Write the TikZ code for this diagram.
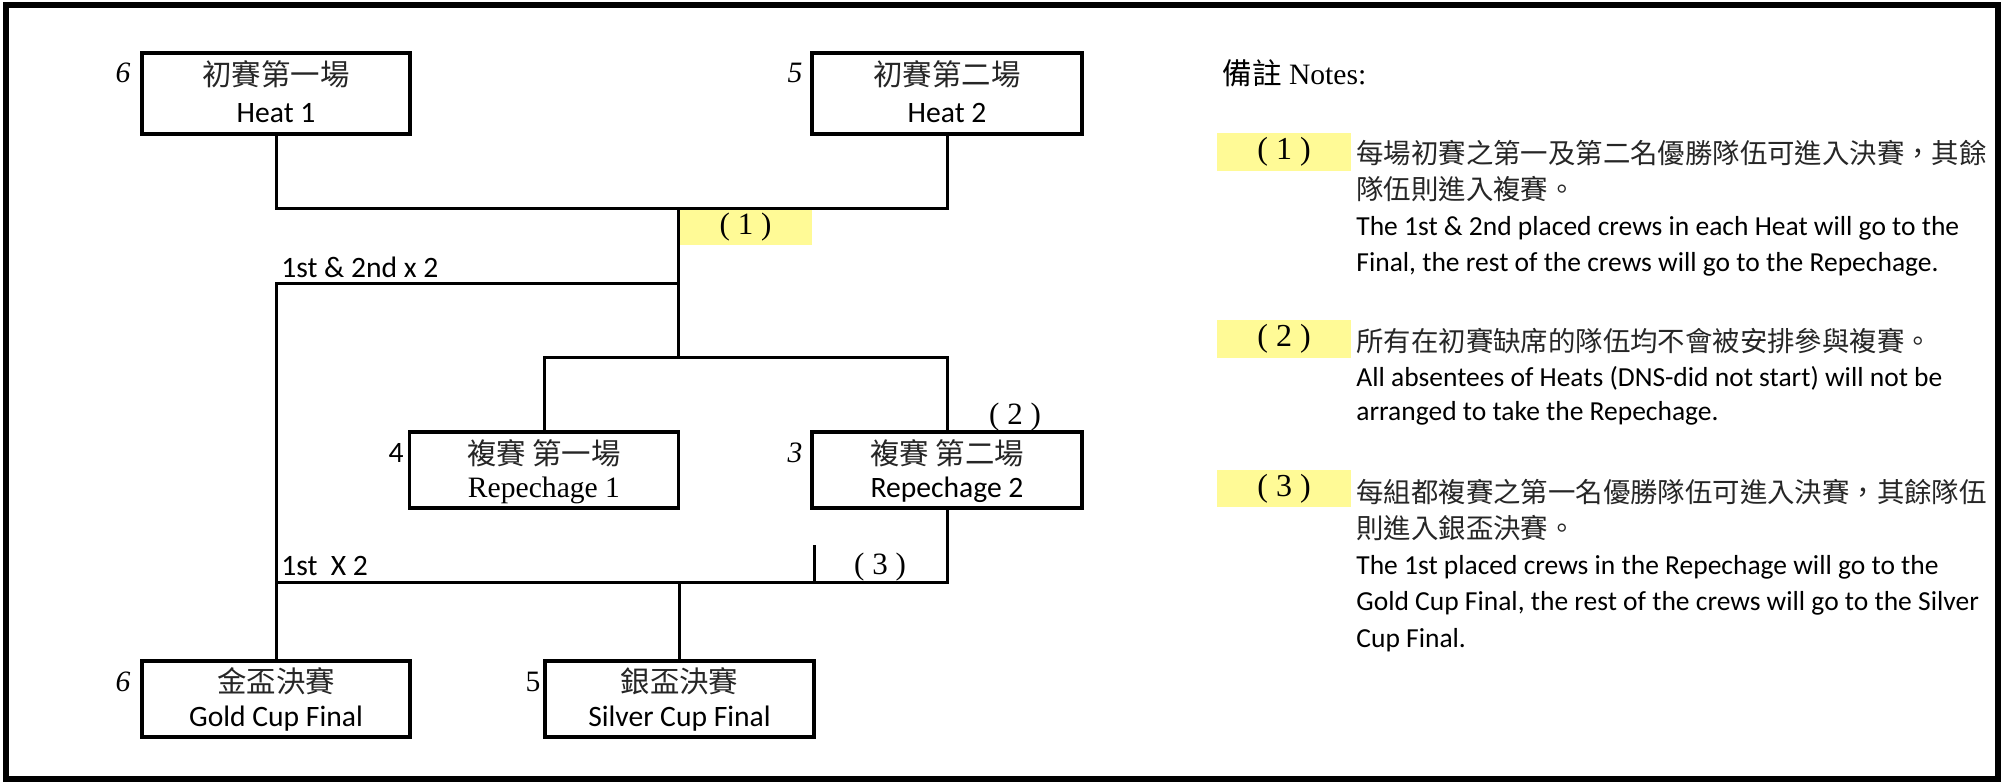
\documentclass[tikz,border=0pt]{standalone}
\usepackage{fontspec}
\setmainfont{Liberation Serif}
\newfontfamily\calfont{Carlito}
\newfontfamily\cjk{Noto Sans CJK TC}
\definecolor{hl}{RGB}{255,250,150}
\begin{document}
\begin{tikzpicture}[x=0.5pt,y=-0.5pt,
  box/.style={draw, line width=1.6pt, inner sep=0pt},
  conn/.style={line width=1.5pt},
  zh/.style={font=\cjk\fontsize{14.7}{16}\selectfont, text=black!85, inner sep=0pt},
  en/.style={font=\calfont\fontsize{14.8}{16}\selectfont, inner sep=0pt},
  tm/.style={font=\fontsize{14.8}{16}\selectfont, inner sep=0pt},
  tmi/.style={font=\itshape\fontsize{14.8}{16}\selectfont, inner sep=0pt},
  nzh/.style={font=\cjk\fontsize{13.7}{16}\selectfont, text=black!85, inner sep=0pt, anchor=west},
  nen/.style={font=\calfont\fontsize{13.75}{16}\selectfont, inner sep=0pt, anchor=west},
  hlbox/.style={fill=hl, inner sep=0pt, font=\fontsize{14.8}{16}\selectfont}]
\useasboundingbox (0,0) rectangle (2013,782);
\node[draw, line width=2.6pt, minimum width=996pt, minimum height=387pt, inner sep=0pt] (frame) at (1002,392) {};

% boxes
\node[box, minimum width=134pt, minimum height=40.5pt] (heat1) at (276,93.5) {};
\node[box, minimum width=135pt, minimum height=40.5pt] (heat2) at (947,93.5) {};
\node[box, minimum width=134.5pt, minimum height=38pt] (rep1) at (544,470) {};
\node[box, minimum width=135pt, minimum height=38pt] (rep2) at (947,470) {};
\node[box, minimum width=134pt, minimum height=38pt] (gold) at (276,699) {};
\node[box, minimum width=134.5pt, minimum height=38pt] (silver) at (679.5,699) {};

% box texts
\node[zh] (h1zh) at (276,74) {初賽第一場};
\node[en] (h1en) at (276,113) {Heat 1};
\node[zh] (h2zh) at (947,74) {初賽第二場};
\node[en] (h2en) at (947,113) {Heat 2};
\node[zh] (r1zh) at (544,453) {複賽 第一場};
\node[tm] (r1en) at (544,490) {Repechage 1};
\node[zh] (r2zh) at (947,453) {複賽 第二場};
\node[en] (r2en) at (947,490) {Repechage 2};
\node[zh] (gzh) at (276,681) {金盃決賽};
\node[en] (gen) at (276,719) {Gold Cup Final};
\node[zh] (szh) at (679.5,681) {銀盃決賽};
\node[en] (sen) at (679.5,719) {Silver Cup Final};

% crew numbers
\node[tmi] (n1) at (123,73) {6};
\node[tmi] (n2) at (795,73) {5};
\node[en] (n3) at (396,453) {4};
\node[tmi] (n4) at (795,453) {3};
\node[tmi] (n5) at (123,682) {6};
\node[tm] (n6) at (533,682) {5};

% junctions
\coordinate (j1) at (678,208);
\coordinate (j2) at (678,357);
\coordinate (ja) at (678,283);
\coordinate (jb) at (276,582);
\coordinate (t1) at (814,545);
\coordinate (t2) at (814,582);

% connectors
\node[hlbox, minimum width=66.5pt, minimum height=17.5pt, font=\fontsize{15.5}{16}\selectfont] (m1) at (745.5,227.5) {( 1 )};
\draw[conn] (heat1.south) |- (j1) -| (heat2.south);
\draw[conn] (j1) -- (j2);
\draw[conn] (rep1.north) |- (j2) -| (rep2.north);
\draw[conn] (ja) -| (gold.north);
\draw[conn] (rep2.south) |- (jb);
\draw[conn] (silver.north) -- (silver.north |- jb);
\draw[conn] (t1) -- (t2);

% connector labels
\node[en, anchor=west] (l1) at (281,267) {1st \& 2nd x 2};
\node[en, anchor=west] (l2) at (281,566) {1st\ \ X 2};
\node[tm, font=\fontsize{15.5}{16}\selectfont] (m2) at (1015,417) {( 2 )};
\node[tm, font=\fontsize{15.5}{16}\selectfont] (m3) at (880,567) {( 3 )};

% notes
\node[anchor=west, inner sep=0pt, font=\fontsize{14.8}{16}\selectfont] (title) at (1222,73) {{\cjk 備註} Notes:};
\node[hlbox, minimum width=67pt, minimum height=19pt, font=\fontsize{16}{16}\selectfont] (k1) at (1284,152) {( 1 )};
\node[hlbox, minimum width=67pt, minimum height=19pt, font=\fontsize{16}{16}\selectfont] (k2) at (1284,339) {( 2 )};
\node[hlbox, minimum width=67pt, minimum height=18.5pt, font=\fontsize{16}{16}\selectfont] (k3) at (1284,488.5) {( 3 )};

\node[nzh] (a1) at (1356,153) {每場初賽之第一及第二名優勝隊伍可進入決賽，其餘};
\node[nzh] (a2) at (1356,189) {隊伍則進入複賽。};
\node[nen] (a3) at (1356,228) {The 1st \& 2nd placed crews in each Heat will go to the};
\node[nen] (a4) at (1356,264) {Final, the rest of the crews will go to the Repechage.};
\node[nzh] (b1) at (1356,341) {所有在初賽缺席的隊伍均不會被安排參與複賽。};
\node[nen] (b2) at (1356,378) {All absentees of Heats (DNS-did not start) will not be};
\node[nen] (b3) at (1356,413) {arranged to take the Repechage.};
\node[nzh] (c1) at (1356,492) {每組都複賽之第一名優勝隊伍可進入決賽，其餘隊伍};
\node[nzh] (c2) at (1356,528) {則進入銀盃決賽。};
\node[nen] (c3) at (1356,567) {The 1st placed crews in the Repechage will go to the};
\node[nen] (c4) at (1356,603) {Gold Cup Final, the rest of the crews will go to the Silver};
\node[nen] (c5) at (1356,640) {Cup Final.};
\end{tikzpicture}
\end{document}
